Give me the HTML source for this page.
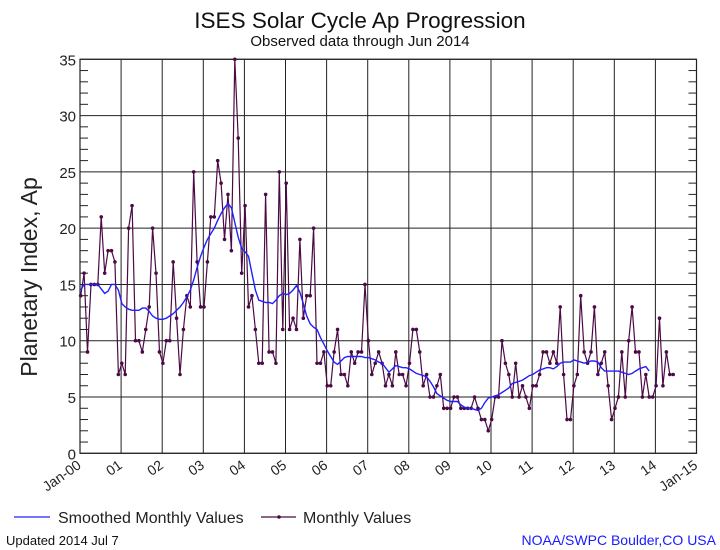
<!DOCTYPE html>
<html><head><meta charset="utf-8"><style>
body{margin:0;background:#fff;}
svg{display:block;font-family:"Liberation Sans",sans-serif;}
</style></head><body>
<svg id="chart" width="720" height="550" viewBox="0 0 720 550">
<rect width="720" height="550" fill="#fff"/>
<text x="360" y="28" text-anchor="middle" font-size="22.5" fill="#111">ISES Solar Cycle Ap Progression</text>
<text x="360" y="46" text-anchor="middle" font-size="15" fill="#111">Observed data through Jun 2014</text>
<text transform="translate(37,277) rotate(-90)" text-anchor="middle" font-size="23" fill="#222">Planetary Index, Ap</text>
<g id="grid"></g>
<g id="axes"></g>
<g id="series"></g>
<g>
<line x1="14" y1="517" x2="50" y2="517" stroke="#2020ff" stroke-width="1.2"/>
<text x="58" y="523" font-size="16" fill="#222">Smoothed Monthly Values</text>
<line x1="261" y1="517" x2="296" y2="517" stroke="#4b0a45" stroke-width="1.2"/>
<circle cx="279" cy="517" r="1.8" fill="#4b0a45"/>
<text x="303" y="523" font-size="16" fill="#222">Monthly Values</text>
</g>
<text x="6" y="545" font-size="13" fill="#111">Updated 2014 Jul  7</text>
<text x="716" y="545" text-anchor="end" font-size="14" fill="#1a1aff">NOAA/SWPC Boulder,CO USA</text>
</svg>
<script>
const yTicks = [0,5,10,15,20,25,30,35];
const xLabels = ["Jan-00","01","02","03","04","05","06","07","08","09","10","11","12","13","14","Jan-15"];
const monthly = [
14,16,9,15,15,15,21,16,18,18,17,7,
8,7,20,22,10,10,9,11,13,20,16,9,
8,10,10,17,12,7,11,14,13,25,17,13,
13,17,21,21,26,24,19,23,18,35,28,16,
22,13,14,11,8,8,23,9,9,8,25,11,
24,11,12,11,19,12,14,14,20,8,8,9,
6,6,9,11,7,7,6,9,8,9,9,15,
10,7,8,9,8,6,7,6,9,7,7,6,
8,11,11,9,6,7,5,5,6,7,4,4,
4,5,5,4,4,4,4,5,4,3,3,2,
3,5,5,10,8,7,5,8,5,6,5,4,
6,6,7,9,9,8,9,8,13,7,3,3,
6,7,14,9,8,9,13,7,8,9,6,3,
4,5,9,5,10,13,9,9,5,7,5,5,
6,12,6,9,7,7];
const smoothed = [
14.5,15,15,15,15,15,14.6,14.2,14.4,15,15,14.5,
13.3,13,12.8,12.7,12.7,12.7,12.9,12.9,12.6,12.2,12,11.9,
11.9,12,12.2,12.4,12.7,13,13.4,13.9,14.5,15.4,16.5,17.5,
18.3,19,19.5,20,20.7,21.3,21.8,22.2,21.8,20.5,19.2,18.2,
17.9,17.5,16,14.5,13.6,13.5,13.4,13.4,13.3,13.6,14,14.2,
14.1,14.2,14.5,14.9,14.3,13.3,12.2,11.5,11.2,11,10.3,9.7,
9.1,8.6,8.1,7.9,8.2,8.5,8.6,8.6,8.6,8.6,8.6,8.5,
8.5,8.4,8.3,8.1,8,7.6,7.2,7.5,7.8,7.7,7.6,7.6,
7.5,7.3,7.1,7,6.9,6.8,6.4,5.9,5.3,5.1,4.9,4.7,
4.6,4.6,4.6,4.3,4.1,4,4,3.9,3.8,4,4.5,4.9,
5,5.1,5.2,5.4,5.6,5.8,6.2,6.3,6.4,6.5,6.7,6.9,
7,7.2,7.4,7.5,7.6,7.6,7.5,7.7,8,8.1,8.1,8.1,
8.3,8.2,8.1,8,8.1,8.2,8.2,8.1,7.6,7.3,7.3,7.3,
7.3,7.3,7.2,7.1,7,7.1,7.3,7.5,7.6,7.7,7.3];

const NS = "http://www.w3.org/2000/svg";
const L = 80, R = 696.5, T = 59.3, B = 453.3, YMAX = 35, NYEARS = 15;
const xm = m => L + (R - L) * m / (NYEARS * 12);
const yv = v => B - (B - T) * v / YMAX;
function mk(tag, attrs, parent) {
  const el = document.createElementNS(NS, tag);
  for (const k in attrs) el.setAttribute(k, attrs[k]);
  parent.appendChild(el);
  return el;
}
const grid = document.getElementById('grid');
const axes = document.getElementById('axes');
const series = document.getElementById('series');

yTicks.forEach(v => {
  const g = mk('line', {x1: L, x2: R, y1: yv(v), y2: yv(v), stroke: '#222', 'stroke-width': 1}, grid);
  
  
  const t = mk('text', {x: 76, y: yv(v) + 6, 'text-anchor': 'end', 'font-size': 15, fill: '#222'}, axes);
  t.textContent = v;
  
  
});
for (let v = 0; v <= YMAX; v++) {
  if (v % 5 === 0) continue;
  const a = mk('line', {x1: L, x2: L + 8, y1: yv(v), y2: yv(v), stroke: '#222'}, axes);
  
  
  const b = mk('line', {x1: R - 8, x2: R, y1: yv(v), y2: yv(v), stroke: '#222'}, axes);
  
  
}
xLabels.forEach((lab, i) => {
  const x = xm(i * 12);
  const g = mk('line', {x1: x, x2: x, y1: T, y2: B, stroke: '#222', 'stroke-width': 1}, grid);
  
  
  const t = mk('text', {x: 0, y: 0, 'text-anchor': 'end', 'font-size': 14, fill: '#222',
    transform: `translate(${x + 2},${B + 14}) rotate(-35)`}, axes);
  t.textContent = lab;
  
  
});
const frame = mk('rect', {x: L, y: T, width: R - L, height: B - T, fill: 'none', stroke: '#222', 'stroke-width': 1.2}, axes);



const mPts = monthly.map((v, i) => `${xm(i + 0.2).toFixed(1)},${yv(v).toFixed(1)}`).join(' ');
const ml = mk('polyline', {points: mPts, fill: 'none', stroke: '#4b0a45', 'stroke-width': 1.2}, series);


monthly.forEach((v, i) => {
  const c = mk('circle', {cx: xm(i + 0.2), cy: yv(v), r: 1.8, fill: '#4b0a45'}, series);
  
  
});
const sPts = smoothed.map((v, i) => `${xm(i + 0.2).toFixed(1)},${yv(v).toFixed(1)}`).join(' ');
const sl = mk('polyline', {points: sPts, fill: 'none', stroke: '#2020ff', 'stroke-width': 1.4}, series);


</script>
</body></html>
